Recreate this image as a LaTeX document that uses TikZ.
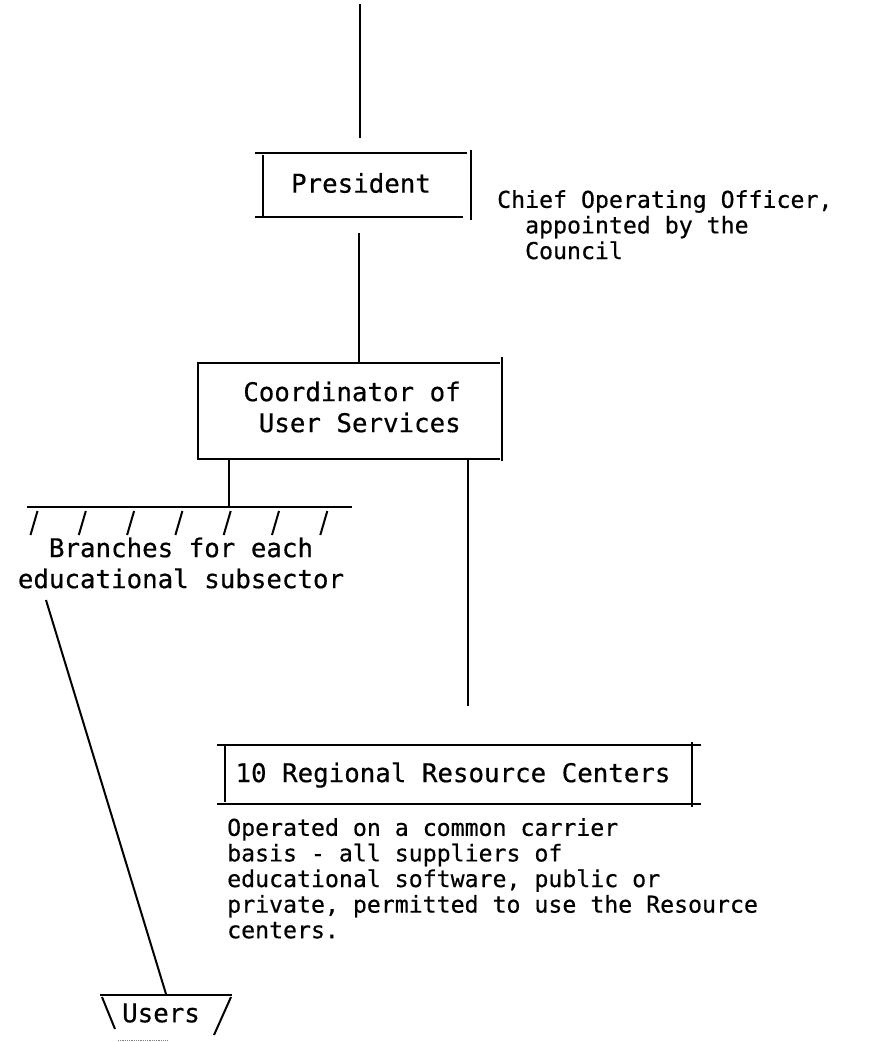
\documentclass[tikz,border=0pt]{standalone}
\usepackage{fontspec}
\newfontfamily\typed{DejaVu Sans Mono}[FakeBold=0.5]
\begin{document}
\begin{tikzpicture}[x=1pt,y=-1pt,
  rule/.style={line width=2pt, black, line cap=butt},
  title/.style={font=\typed\fontsize{25.8}{31}\selectfont, inner sep=0pt},
  note/.style={font=\typed\fontsize{23.2}{25.6}\selectfont, inner sep=0pt,
               align=left, anchor=north west},
]
\useasboundingbox (0,0) rectangle (888,1042);

% ---------- text ----------
\node[title] (pres) at (361,183) {President};
\node[note] (coo) at (497,190) {Chief Operating Officer,\\
  \hphantom{xx}appointed by the\\\hphantom{xx}Council};
\node[title, align=left] (cus) at (352,407) {Coordinator of\\\hphantom{C}User Services};
\node[title, align=center] (br) at (181,563) {Branches for each\\educational subsector};
\node[title] (rrc) at (453,775) {10 Regional Resource Centers};
\node[note] (op) at (227,818) {Operated on a common carrier\\
  basis - all suppliers of\\educational software, public or\\
  private, permitted to use the Resource\\centers.};
\node[title] (usr) at (161,1013) {Users};

% ---------- anchor points ----------
\coordinate (top)    at (360,4);
\coordinate (presN)  at (360,138);
\coordinate (presS)  at (359,233);
\coordinate (cusN)   at (359,362);
\coordinate (cusSL)  at (229,460);
\coordinate (hatch)  at (229,507);
\coordinate (cusSR)  at (468,460);
\coordinate (rrcN)   at (468,706);
\coordinate (brFoot) at (46,600);
\coordinate (usrTop) at (166,994);

% ---------- President box ----------
\draw[rule] (255,153) -- (467,153);
\draw[rule] (255,217) -- (463,217);
\draw[rule] (263,155) -- (263,216);
\draw[rule] (471,150) -- (471,220);

% ---------- Coordinator box ----------
\draw[rule] (197,363) -- (500,363);
\draw[rule] (197,459) -- (500,459);
\draw[rule] (198,362) -- (198,459);
\draw[rule] (502,357) -- (502,461);

% ---------- Regional box ----------
\draw[rule] (217,745) -- (701,745);
\draw[rule] (217,804) -- (701,804);
\draw[rule] (225,745) -- (225,802);
\draw[rule] (692,742) -- (692,807);

% ---------- branch hatching ----------
\draw[rule] (27,507) -- (352,507);
\foreach \c in {34,82.3,130.6,178.9,227.2,275.5,323.8}
  \draw[rule] (\c-3.5,535) -- (\c+3.5,511);

% ---------- Users trapezoid ----------
\draw[rule] (100,995) -- (232,995);
\draw[rule] (102,997) -- (115,1029);
\draw[rule] (231,997) -- (214,1035);
\draw[line width=0.8pt, gray, densely dotted] (118,1040) -- (168,1040);

% ---------- connectors ----------
\draw[rule] (top) -- (presN);
\draw[rule] (presS) -- (cusN);
\draw[rule] (cusSL) -- (hatch);
\draw[rule] (cusSR) -- (rrcN);
\draw[rule] (brFoot) -- (usrTop);
\end{tikzpicture}
\end{document}
